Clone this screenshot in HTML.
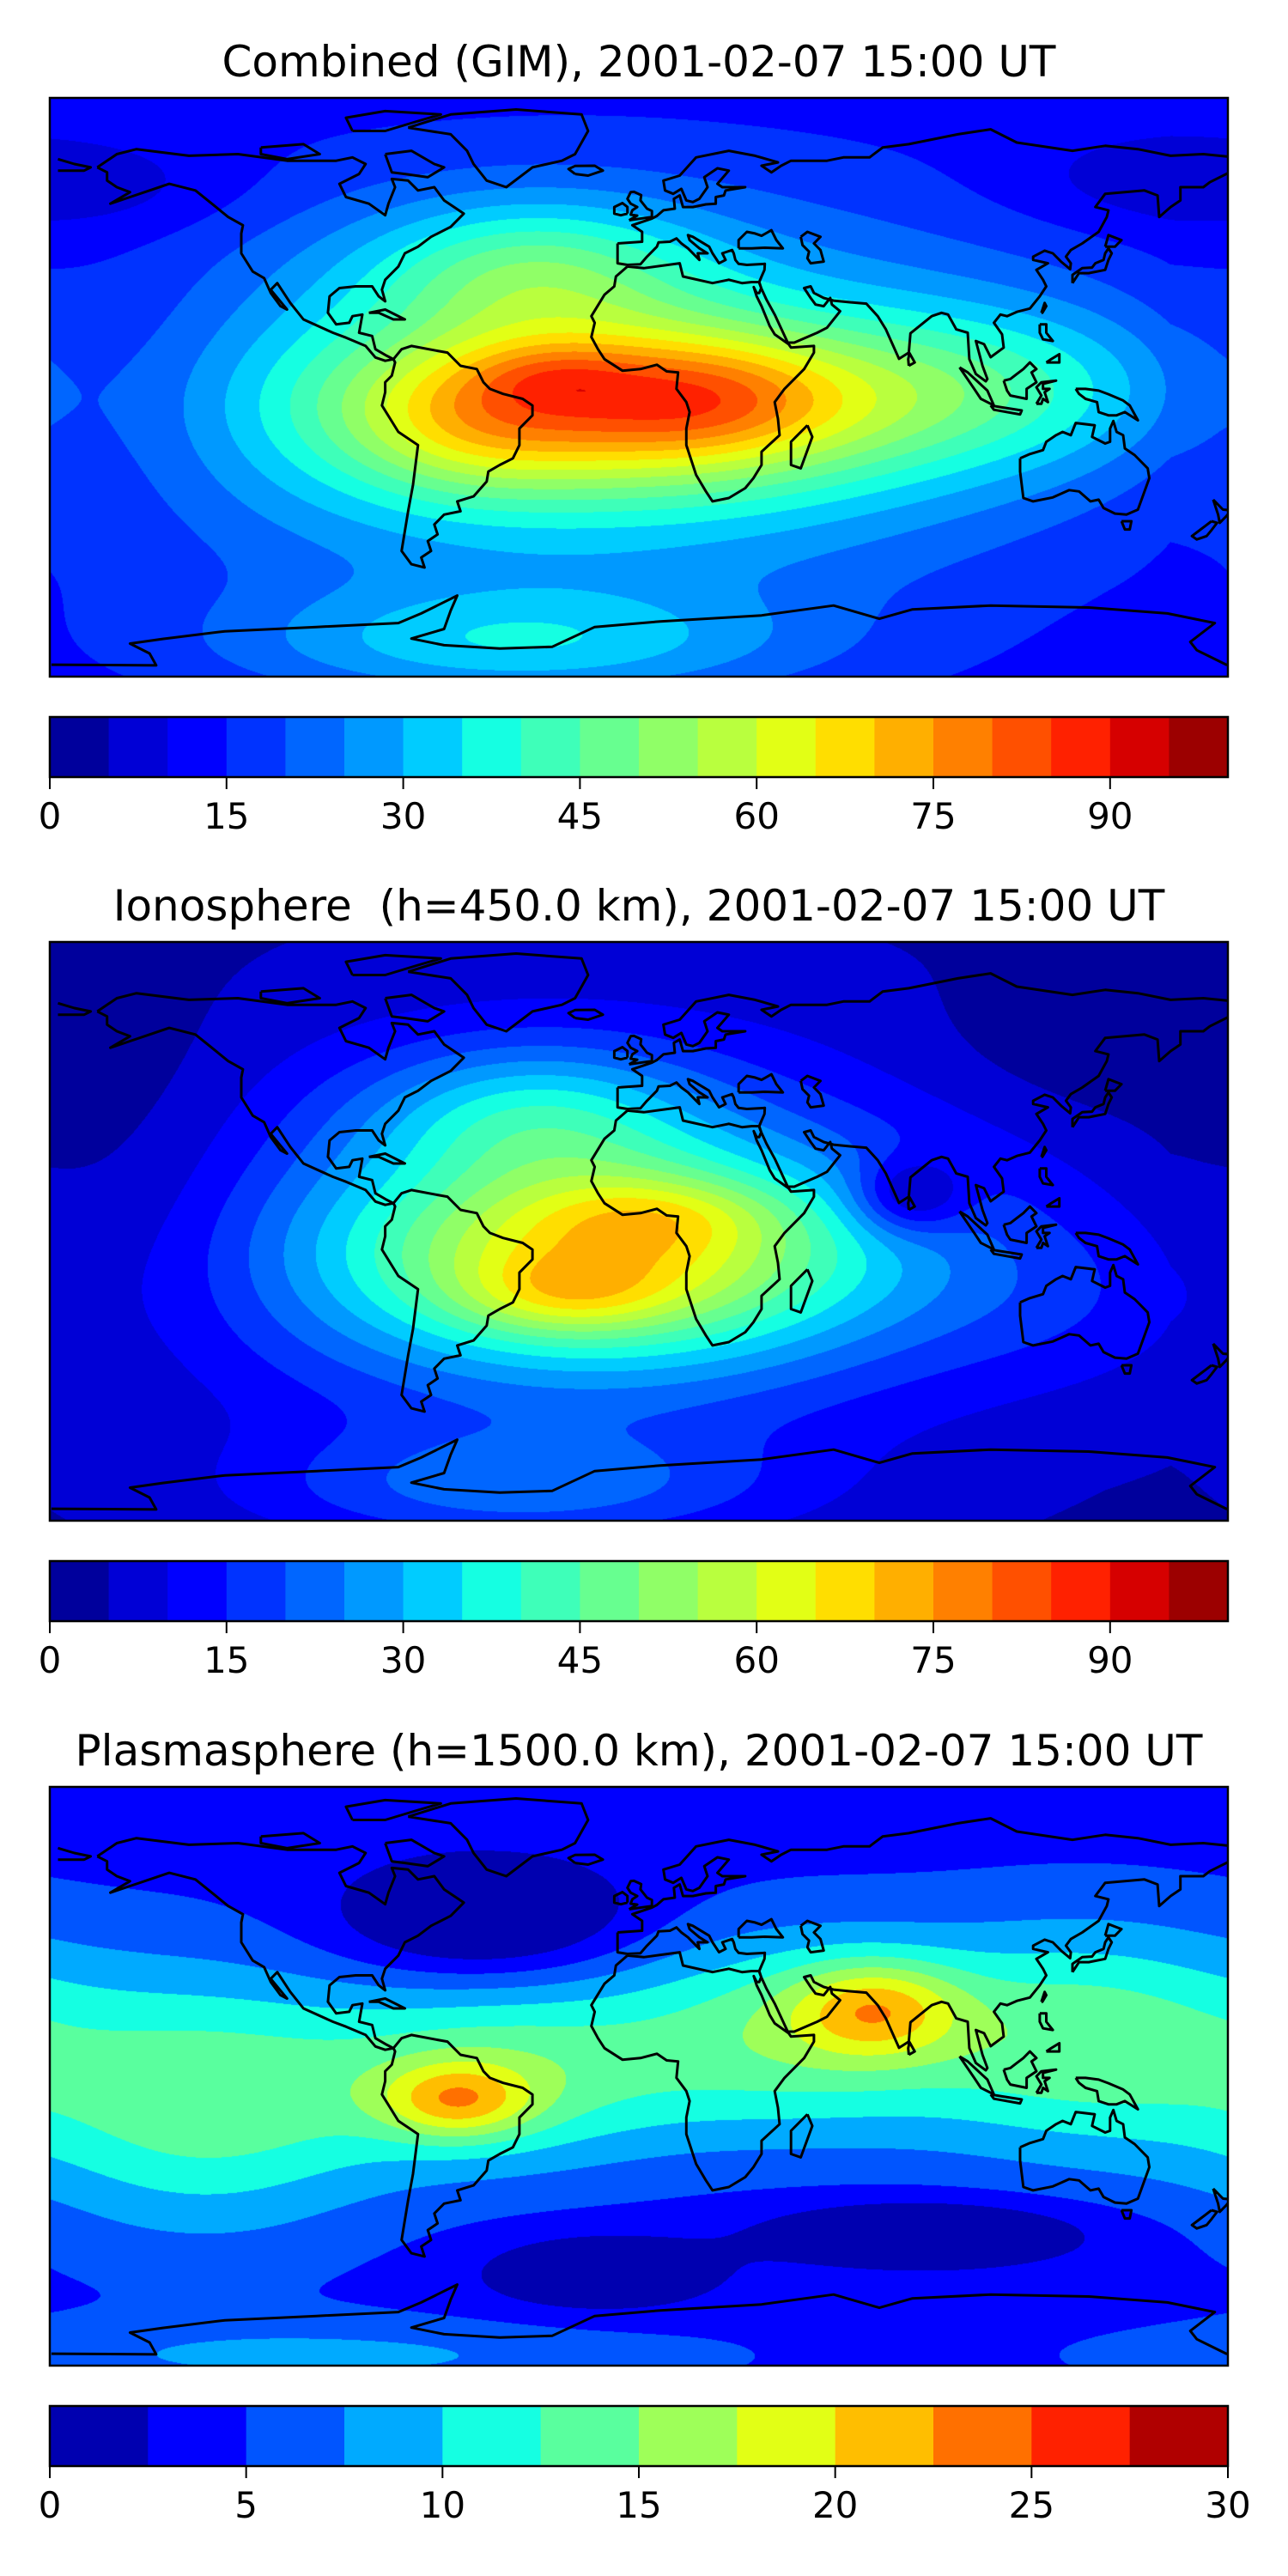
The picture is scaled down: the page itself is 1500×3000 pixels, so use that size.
<!DOCTYPE html>
<html><head><meta charset="utf-8">
<style>
html,body{margin:0;padding:0;background:#fff;}
#root{position:relative;width:1500px;height:3000px;overflow:hidden;background:#fff;}
canvas{position:absolute;}
#ov{position:absolute;left:0;top:0;}
text{font-family:"DejaVu Sans","Liberation Sans",sans-serif;fill:#000;}
</style></head>
<body>
<div id="root">
<canvas id="c0"></canvas>
<canvas id="c1"></canvas>
<canvas id="c2"></canvas>
<svg id="ov" width="1500" height="3000" xmlns="http://www.w3.org/2000/svg"></svg>
</div>
<script>
// ---------- data ----------
const titles = ["Combined (GIM), 2001-02-07 15:00 UT",
                "Ionosphere  (h=450.0 km), 2001-02-07 15:00 UT",
                "Plasmasphere (h=1500.0 km), 2001-02-07 15:00 UT"];
const panelNames = ["combined","ionosphere","plasmasphere"];
const vmaxs = [100, 100, 30];
const levelCounts = [20, 20, 12];
const ticks0 = [0,15,30,45,60,75,90];
const ticks1 = [0,15,30,45,60,75,90];
const ticks2 = [0,5,10,15,20,25,30];
const baseVals = [12, 4, 4];
// blobs: lon, lat, amplitude, sigma-lon, sigma-lat
const gimLon = [-20, -5,-28,-55, 20,-35,110,-40,-160,150,-165];
const gimLat = [ -5, -6,  3,-12, -3, 35,  0,-78,   0, 62,  60];
const gimAmp = [ 30, 37,  9, 10, 10, 20, 15, 18,  -6, -5,  -5];
const gimSx  = [100, 60, 18, 25, 25, 35, 45, 60,  30, 30,  30];
const gimSy  = [ 40, 17,  7, 15, 12, 15, 18, 12,  30, 10,  10];
const ionLon = [-20,-10,-25,  5,-35, 80,-40,130,-155,140];
const ionLat = [ -5, -8,-20,  5, 35, 10,-78,-20,  10, 55];
const ionAmp = [ 28, 36, 12, 10, 18,-18, 15,  6,  -5, -4];
const ionSx  = [ 85, 55, 22, 25, 35, 12, 55, 40,  30, 40];
const ionSy  = [ 40, 20,  8,  8, 15,  8, 12, 20,  35, 15];
const plaLon = [-135,-45, 45,135,-50, 86,-15,-58, 70,-100];
const plaLat = [  -8,  0, 12, 10, 47,-48,-60, -8, 20, -85];
const plaAmp = [ 9.5,9.5,9.5,9.5, -7, -6, -5,  9,  9,   4];
const plaSx  = [  40, 40, 40, 40, 30, 35, 25, 16, 18,  80];
const plaSy  = [  28, 20, 22, 25, 12,  7,  8,  8, 10,   8];
const fields = [[gimLon,gimLat,gimAmp,gimSx,gimSy],[ionLon,ionLat,ionAmp,ionSx,ionSy],[plaLon,plaLat,plaAmp,plaSx,plaSy]];

const coasts = [
 [[-168,66],[-162,70],[-156,71.5],[-140,69.5],[-125,70],[-110,68],[-95,68],[-90,69],[-86,67],[-88,64],[-94,61],[-93,59],[-92,57],[-85,55],[-80,51.5],[-79,55],[-77,60],[-78,62.5],[-73,62],[-70,59],[-65,60],[-62,56],[-56,52],[-60,48],[-66,45],[-70,42],[-74,40],[-76,36],[-80,32],[-81,29],[-80,25.5],[-82,27],[-84,30],[-89,30],[-94,29.5],[-97,27],[-97.5,22],[-95,18.5],[-91,19],[-90,21],[-87,21.5],[-88,16],[-84,15],[-83,11],[-79.5,9],[-77.5,8],[-80,7.5],[-83,8.5],[-86,12],[-92,14.5],[-96,16],[-105,20],[-109,25],[-113,31],[-115,29],[-110,23],[-112,24],[-115,28],[-117,32.5],[-120.5,34.5],[-124,40],[-124,46],[-123.5,48.5],[-128,51],[-133,55],[-138,59],[-146,61],[-152,59],[-158,57],[-164,55],[-158,58.5],[-162,60],[-165,62],[-165,64.5],[-168,66]],
 [[-77.5,8],[-75,11],[-72,12],[-64,10.5],[-61,10],[-57,6],[-52,5],[-50,1],[-48,-1],[-44,-2.5],[-38,-4],[-35,-6],[-35,-9],[-39,-13],[-39,-18],[-41,-22],[-45,-24],[-48.5,-26],[-49,-29],[-53,-33.5],[-58,-35],[-57,-38],[-62,-39],[-65,-42],[-64,-45],[-67,-47],[-66,-50],[-69,-52],[-68,-55],[-72,-54],[-75,-50],[-74,-44],[-73,-38],[-71.5,-30],[-70,-18],[-76,-14],[-81,-6],[-80,-2],[-80,1],[-78,3],[-77,7],[-77.5,8]],
 [[-73,78],[-60,82],[-40,83.5],[-20,82],[-18,77],[-22,70],[-26,68],[-35,66],[-43,60],[-49,62],[-53,67],[-55,71],[-60,76],[-73,78]],
 [[-80,70],[-72,71],[-65,67],[-62,66],[-67,63],[-74,64],[-78,64.5],[-80,70]],
 [[-90,77],[-80,77],[-70,80],[-63,82],[-80,83],[-92,81],[-90,77]],
 [[-118,72],[-105,73],[-100,70],[-110,68.5],[-118,70],[-118,72]],
 [[-85,22],[-80,23],[-74,20],[-77.5,20],[-82,22],[-85,22]],
 [[-6,36],[-1,35.5],[10,37],[11,33],[20,31],[25,32],[29,31],[32,31.3],[34.2,31.3],[34.9,29.5],[34.3,28],[33.5,28],[32.6,29.8],[33.5,27],[35,24],[37.5,18],[39,15.5],[43.3,12.5],[44,11.5],[51,12],[51,10],[48,5],[42,-1],[39,-5],[40,-10],[40.5,-15],[35,-20],[35,-24],[32.5,-28],[30,-31],[25,-34],[20,-35],[18,-32],[15,-27],[12,-18],[12,-13],[13,-8],[12,-5],[9,-1],[9.5,4],[6,4.3],[3,6.3],[-2,5],[-7.5,4.5],[-13,8],[-15,11],[-17,14.7],[-16,19],[-17,21],[-13,27.5],[-10,30],[-9.5,33],[-6,36]],
 [[49,-12],[50.5,-15.5],[47,-25],[44,-24],[44,-17],[49,-12]],
 [[-9,43],[-9,37],[-6,36.5],[-2,36.7],[0,39],[3,42],[3.5,43.3],[7,43.5],[9,44.5],[10.5,43],[12.5,41.5],[16,38],[15.5,40],[18.5,40],[16,41.5],[13,44],[12.5,45.5],[14,45],[19,42],[20,40],[22,37],[24,38],[23,40],[26,41],[26.5,40],[27,38],[28,36.8],[30.5,36.5],[36,36.8],[35.9,35],[35,33],[34.3,31.3],[34.9,29.5],[36.5,26],[39,21.5],[43,13],[45,13],[52,16],[55,17.5],[59,22.5],[56.5,24.5],[56,26.5],[54,24],[51.5,24.5],[50,26.5],[48,29.5],[50,30],[51,28],[54,26.5],[57,25.7],[62,25.2],[67,24.8],[70.5,21],[73,17],[77,8.1],[80,10],[80.5,15.8],[87,21],[90,22],[92,21.5],[94.5,17],[98,16],[98.5,8],[100.5,3.5],[103.5,1.3],[104,2],[102.5,6],[100.5,13.5],[103,12.5],[105,8.6],[109,11.5],[108.5,15.5],[106,19],[108,21.5],[110,21],[113,22.3],[117,23.3],[120,27],[122,30],[121,32],[119,35],[122.5,37],[118,38],[118,39],[121.5,40.8],[124,40],[126.5,37.5],[129.3,35.2],[129.5,37],[128,39],[129.5,41],[133,43],[138,46.5],[140.5,51],[141,53],[137,54],[140,58],[152,59],[156,57.5],[156.5,51],[160,54],[163,56],[163,60],[170,60],[172,61.5],[178,64.5],[180,65],[180,69],[170,70],[160,69.5],[150,71.5],[140,72.5],[130,71],[113,73.5],[105,77.5],[95,76],[80,73],[72,72],[68,69],[60,69],[55,68],[44,68],[41,66.5],[38,64.5],[35,66.5],[40,67.5],[33,69.5],[25,71],[15,69],[10,63.5],[5,62],[5.5,59],[8,58],[10.5,59.5],[12,56],[14,55.5],[16,56.5],[18.5,60],[17.5,63],[21.5,65.7],[25,65],[21.5,61],[23,60],[30,60],[24,59],[23.5,57.5],[21,57],[21,55],[18,54.8],[14,54],[11,54],[10,57.5],[8.2,56.5],[8.5,53.5],[5,53],[3,51.3],[1.5,50.5],[-1.5,49.5],[-4.5,48.5],[-1.5,46.5],[-1.5,43.5],[-9,43]],
 [[-180,68.5],[-175,67],[-170,66],[-172,65],[-180,65]],
 [[28,41.5],[28,44],[30.5,46.5],[33,46],[35,45.3],[38,47],[39.5,44],[41.5,41.5],[36,41.7],[32,41.5],[28,41.5]],
 [[47,45],[49,46.5],[53,45],[51,43],[53,41],[54,37.5],[50,37],[49,38.5],[49.5,40.5],[47.5,42.5],[47,45]],
 [[-5.5,50],[1.5,51],[1.5,52.8],[0,53.5],[-2,56],[-1.8,57.6],[-4,58.6],[-5,58.5],[-6,56.5],[-5,55],[-3,54],[-4.5,53],[-5,51.7],[-3,51.4],[-5.5,50]],
 [[-6,52],[-6,54],[-7.5,55.2],[-10,54],[-10,52],[-8,51.5],[-6,52]],
 [[-22,64],[-24,65.5],[-22,66.4],[-16,66.5],[-13.5,65],[-18,63.5],[-22,64]],
 [[130,31],[132,34],[135,34],[140,35],[141,38],[142,40],[141,41.5],[140,40],[139.5,38],[137,37],[136,35.7],[133,35.5],[130,33.5],[130,31]],
 [[140,42],[141,45.5],[145,44],[143,42],[140,42]],
 [[95.5,5.5],[98,4],[104,-1.5],[106,-6],[102,-4],[100,-1],[95.5,5.5]],
 [[105,-6],[108,-6.5],[114.5,-7.5],[114,-8.7],[106,-7.3],[105,-6]],
 [[109,1.5],[110,-1.5],[111,-3],[116,-4],[116,-1],[119,1],[117.5,4],[119,5],[117,7],[115,5],[113,3.5],[111,2],[109,1.5]],
 [[119,-5.5],[120.5,-3],[119,-0.5],[120.5,1],[125,1.5],[121,0.5],[121,-1],[123,-1],[121.5,-2],[122.5,-5],[121,-4],[120.5,-5.5],[119,-5.5]],
 [[120,18.5],[122,18.5],[122,16],[124,13.5],[121,14],[120,16],[120,18.5]],
 [[122,7],[126,7],[126,9.5],[123.5,8],[122,7]],
 [[131,-1],[134,-1],[138,-1.5],[141,-2.6],[145.5,-4.5],[147.5,-6],[150,-10.5],[146,-8],[143.5,-9],[141,-9],[138,-8],[137.5,-5],[134,-4],[132,-2.5],[131,-1]],
 [[120.5,22],[121.5,25],[122,24],[120.8,22],[120.5,22]],
 [[80,6],[81.8,7],[80.2,9.8],[79.8,8],[80,6]],
 [[114,-22],[114,-26],[115,-34],[118,-35],[124,-33.8],[129,-31.6],[132,-32],[135.5,-35],[138,-34.5],[139.5,-37],[143,-38.7],[146.5,-39],[150,-37.5],[153.5,-28],[153,-25],[149,-21],[146,-19],[145.5,-15],[143.5,-14],[142.5,-10.7],[141.5,-13],[141.5,-17],[140,-17.5],[136,-15.5],[136.8,-12],[131,-11.3],[129.5,-15],[127,-14],[125,-15],[122,-17],[121,-19.5],[117,-20.7],[114,-22]],
 [[145,-41],[148,-41],[147.5,-43.5],[146,-43.5],[145,-41]],
 [[173,-34.5],[176,-37.5],[178.5,-37.7],[177,-39.5],[175,-41.5],[174.5,-39],[173,-34.5]],
 [[172.5,-41],[174.2,-41.5],[172.5,-43.7],[171,-45.5],[168,-46.5],[166.5,-45.5],[170.5,-42.5],[172.5,-41]],
 [[-182,-84.4],[-150,-84.6],[-152,-81],[-158,-78],[-148,-76.6],[-129,-74.3],[-101,-73],[-76,-71.8],[-69,-68.9],[-58,-63.5],[-60,-68],[-62,-73.6],[-72,-76.5],[-62,-78.5],[-45,-79.5],[-29,-79],[-16,-73],[4,-71.3],[35,-69.5],[57,-66.5],[71,-70.5],[81,-67.7],[105,-66.5],[135,-67.1],[159,-68.9],[173.5,-71.8],[166,-77.5],[168,-80],[177,-84.4],[185,-84.4]]
];

// ---------- layout ----------
const X0 = 58, W = 1372, H = 674;
const LATTOP = 87, LATBOT = -88, LONSHIFT = 2.5;
const mapTops = [114, 1097, 2081];
const NS = "http://www.w3.org/2000/svg";
const svg = document.getElementById('ov');

function jetCh(pts, x){
  for (let i=0;i<pts.length-1;i++){
    const a=pts[i], b=pts[i+1];
    if (x>=a[0] && x<=b[0]) return a[1]+(b[1]-a[1])*(x-a[0])/(b[0]-a[0]);
  }
  return pts[pts.length-1][1];
}
function jet(x){
  const r=jetCh([[0,0],[0.35,0],[0.66,1],[0.89,1],[1,0.5]],x);
  const g=jetCh([[0,0],[0.125,0],[0.375,1],[0.64,1],[0.91,0],[1,0]],x);
  const b=jetCh([[0,0.5],[0.11,1],[0.34,1],[0.65,0],[1,0]],x);
  return [Math.round(r*255),Math.round(g*255),Math.round(b*255)];
}
function el(tag, attrs, parent){
  const e=document.createElementNS(NS,tag);
  for (const k in attrs) e.setAttribute(k, attrs[k]);
  (parent||svg).appendChild(e);
  return e;
}
function xOfLon(lon){ return X0 + (lon+180+LONSHIFT)/360*W; }
function yOfLat(lat, top){ return top + (LATTOP-lat)/(LATTOP-LATBOT)*H; }

const defs = el('defs',{});
const tickSets=[ticks0,ticks1,ticks2];

for (let p=0;p<3;p++){
  const top = mapTops[p];
  const n = levelCounts[p], vmax = vmaxs[p], step = vmax/n;
  const cols = []; for (let i=0;i<n;i++) cols.push(jet((i+0.5)/n));
  const f = fields[p];
  const base = baseVals[p];
  const cv = document.getElementById('c'+p);
  cv.width=W; cv.height=H; cv.style.left=X0+'px'; cv.style.top=top+'px';
  const ctx = cv.getContext('2d');
  const img = ctx.createImageData(W,H);
  const d = img.data;
  const nb = f[0].length;
  const ex = [];
  for (let k=0;k<nb;k++){
    const a = new Float32Array(W);
    for (let x=0;x<W;x++){
      const lon = -180 - LONSHIFT + (x+0.5)/W*360;
      let dl = ((lon-f[0][k]+900)%360)-180;
      a[x] = Math.exp(-0.5*(dl/f[3][k])*(dl/f[3][k]));
    }
    ex.push(a);
  }
  for (let y=0;y<H;y++){
    const lat = LATTOP - (y+0.5)/H*(LATTOP-LATBOT);
    const ey = [];
    for (let k=0;k<nb;k++){ const dl=(lat-f[1][k])/f[4][k]; ey.push(f[2][k]*Math.exp(-0.5*dl*dl)); }
    for (let x=0;x<W;x++){
      let v = base;
      for (let k=0;k<nb;k++) v += ey[k]*ex[k][x];
      let li = Math.floor(v/step); if (li<0) li=0; if (li>n-1) li=n-1;
      const c = cols[li]; const o=(y*W+x)*4;
      d[o]=c[0]; d[o+1]=c[1]; d[o+2]=c[2]; d[o+3]=255;
    }
  }
  ctx.putImageData(img,0,0);

  const t = el('text',{x:X0+W/2, y:top-25, 'text-anchor':'middle', 'font-size':'50', 'xml:space':'preserve', style:'white-space:pre'});
  
  
  t.textContent = titles[p];

  const cp = el('clipPath',{id:'clip'+p}, defs);
  el('rect',{x:X0,y:top,width:W,height:H}, cp);
  const g = el('g',{'clip-path':'url(#clip'+p+')'});
  
  
  let dstr='';
  for (const poly of coasts){
    dstr += 'M'+poly.map(q=>xOfLon(q[0]).toFixed(1)+','+yOfLat(q[1],top).toFixed(1)).join('L');
  }
  el('path',{d:dstr, fill:'none', stroke:'#000', 'stroke-width':'3', 'stroke-linejoin':'round'}, g);
  const frame = el('rect',{x:X0,y:top,width:W,height:H,fill:'none',stroke:'#000','stroke-width':'2.5'});
  
  

  const cbTop = top + 721, cbH = 70;
  const cb = el('g',{});
  
  
  for (let i=0;i<n;i++){
    const c=cols[i];
    const r = el('rect',{x:(X0+i*W/n).toFixed(2), y:cbTop, width:(W/n+0.6).toFixed(2), height:cbH, fill:'rgb('+c[0]+','+c[1]+','+c[2]+')'}, cb);
    
    
  }
  el('rect',{x:X0,y:cbTop,width:W,height:cbH,fill:'none',stroke:'#000','stroke-width':'2.5'}, cb);
  for (const tv of tickSets[p]){
    const tx = X0 + tv/vmax*W;
    el('line',{x1:tx,x2:tx,y1:cbTop+cbH,y2:cbTop+cbH+14,stroke:'#000','stroke-width':'2'}, cb);
    const lb = el('text',{x:tx, y:cbTop+cbH+60, 'text-anchor':'middle', 'font-size':'42'}, cb);
    
    
    lb.textContent = String(tv);
  }
}
</script>
</body></html>
